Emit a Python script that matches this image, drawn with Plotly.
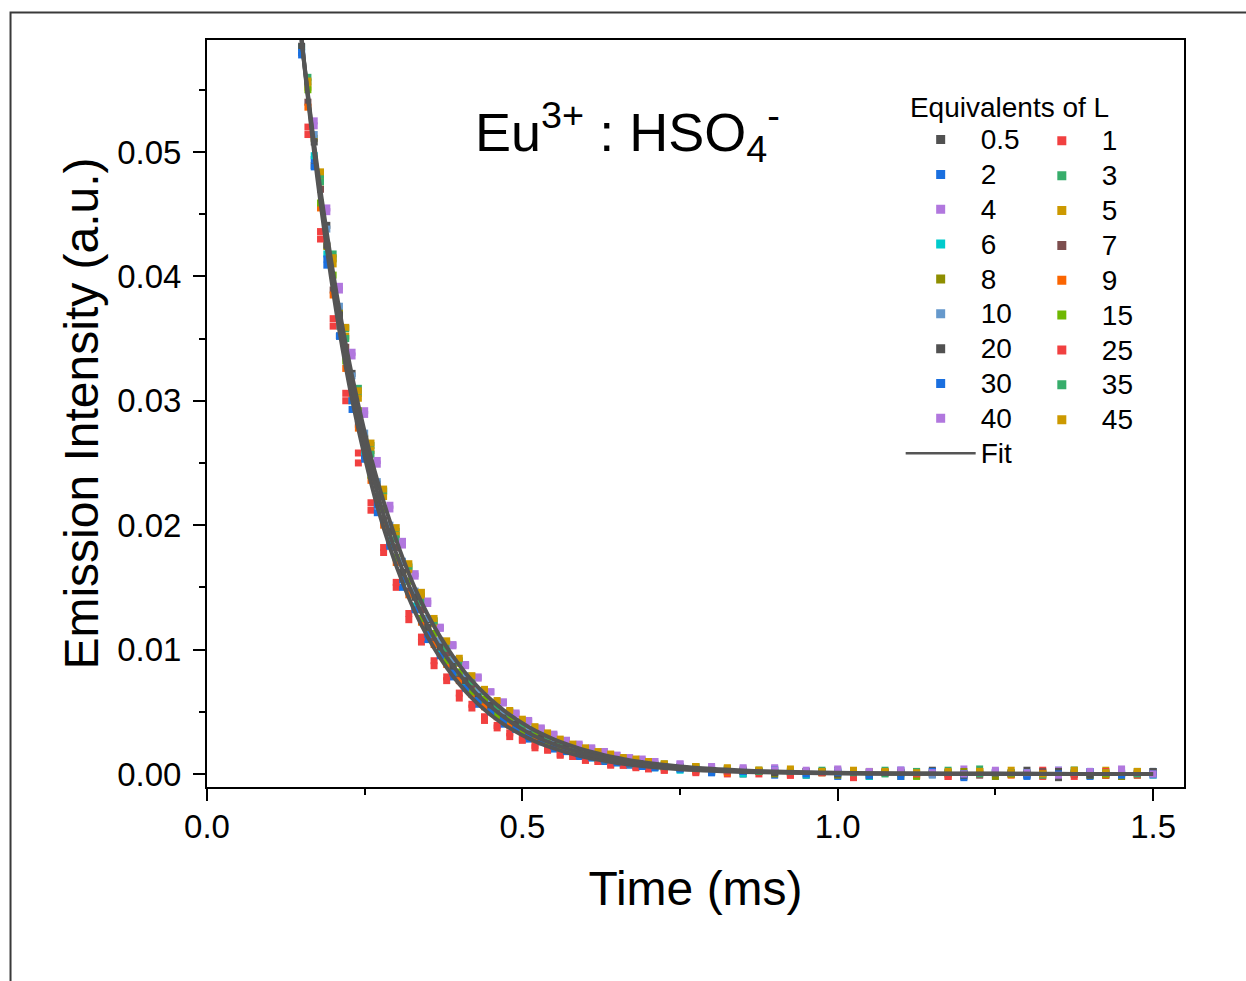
import plotly.graph_objects as go

# ---------------- data (intensity values in units of 1e-4 a.u.) ----------------
t_a = [0.15, 0.17, 0.19, 0.21, 0.23, 0.25, 0.27, 0.29, 0.31, 0.33, 0.35, 0.37, 0.39, 0.41, 0.43,
       0.45, 0.47, 0.49, 0.51, 0.53, 0.55, 0.57, 0.59, 0.61, 0.63, 0.65, 0.67, 0.69, 0.71,
       0.75, 0.80, 0.85, 0.90, 0.95, 1.00, 1.05, 1.10, 1.15, 1.20, 1.25, 1.30, 1.35, 1.40, 1.45, 1.50]
t_b = [0.16, 0.18, 0.20, 0.22, 0.24, 0.26, 0.28, 0.30, 0.32, 0.34, 0.36, 0.38, 0.40, 0.42,
       0.44, 0.46, 0.48, 0.50, 0.52, 0.54, 0.56, 0.58, 0.60, 0.62, 0.64, 0.66, 0.68, 0.70,
       0.725, 0.775, 0.825, 0.875, 0.925, 0.975, 1.025, 1.075, 1.125, 1.175, 1.225, 1.275,
       1.325, 1.375, 1.425, 1.475]

eq_labels = ["0.5", "1", "2", "3", "4", "5", "6", "7", "8", "9",
             "10", "15", "20", "25", "30", "35", "40", "45"]
colors = ["#515151", "#F14040", "#1A6FDF", "#37AD6B", "#B177DE", "#CC9900",
          "#00CBCC", "#7D4E4E", "#8E8E00", "#FB6501", "#6699CC", "#6FB802",
          "#515151", "#F14040", "#1A6FDF", "#37AD6B", "#B177DE", "#CC9900"]

s_0_5 = [602, 489, 441, 352, 322, 256, 233, 185, 170, 134, 124, 96, 91, 70, 66, 51, 48, 37, 35, 26,
         25, 19, 19, 14, 14, 10, 10, 7, 8, 6, 3, 0, 4, -1, 3, -2, 1, 3, -2, 0, 3, -3, 1, -2, 2]
s_1 = [520, 430, 366, 300, 258, 212, 182, 150, 129, 106, 91, 75, 65, 53, 46, 37, 33, 27, 23, 19,
       16, 14, 11, 10, 8, 7, 6, 4, 3, 2, 0, 2, -1, 1, -2, 2, -1, -2, 1, 0, 3, -2, 0, 1]
s_2 = [578, 494, 409, 352, 293, 256, 210, 184, 150, 133, 108, 96, 78, 70, 56, 50, 40, 36, 28, 26,
       20, 18, 14, 13, 10, 9, 7, 7, 5, 4, 1, 3, -1, 2, -2, 1, 3, 0, -3, 1, -1, 3, -2, 0, 2]
s_3 = [556, 481, 414, 358, 306, 264, 227, 195, 166, 143, 123, 105, 91, 78, 67, 58, 50, 43, 37, 32,
       27, 23, 20, 17, 15, 13, 11, 10, 8, 6, 4, 3, 2, 3, 1, 3, 0, 1, 4, 0, 1, 3, -1, 2]
s_4 = [598, 521, 452, 392, 336, 292, 249, 216, 184, 161, 137, 118, 103, 88, 77, 66, 57, 48, 42, 36,
       31, 27, 24, 20, 18, 15, 13, 11, 10, 8, 6, 4, 5, 2, 4, 1, 3, 0, 4, 1, -1, 3, 0, 4, 1]
s_5 = [552, 476, 410, 352, 302, 260, 223, 192, 164, 141, 121, 104, 89, 77, 66, 57, 49, 42, 36, 31,
       27, 23, 20, 17, 15, 13, 11, 9, 8, 6, 4, 3, 4, 2, 3, 1, 2, 1, 2, 3, 1, 0, 3, 2]
s_6 = [584, 497, 418, 360, 300, 259, 217, 188, 157, 135, 113, 98, 83, 70, 59, 51, 43, 36, 31, 26,
       22, 18, 16, 13, 11, 9, 8, 6, 5, 3, 2, 0, 1, -1, 1, -2, 0, 1, 0, -2, 1, 0, -1, 1, -1]
s_7 = [540, 470, 389, 343, 281, 249, 204, 182, 147, 132, 107, 97, 77, 70, 56, 51, 40, 37, 29, 28,
       21, 20, 15, 15, 11, 11, 8, 8, 6, 4, 3, 2, 1, 2, 0, 1, -1, 1, -1, 0, 2, 0, -1, 0]
s_8 = [594, 511, 424, 371, 306, 270, 222, 196, 161, 143, 117, 104, 85, 76, 61, 56, 44, 41, 31, 30,
       22, 22, 16, 16, 11, 12, 8, 9, 6, 5, 2, 3, 0, 2, -1, 2, -2, 0, 2, -2, 0, 2, -1, -2, 1]
s_9 = [536, 455, 385, 326, 278, 236, 200, 170, 144, 122, 104, 88, 75, 64, 54, 46, 39, 33, 28, 24,
       20, 17, 14, 12, 10, 9, 7, 6, 5, 3, 1, 2, 0, 1, -1, 1, -1, 0, 2, -1, 0, 1, -1, 0]
s_10 = [597, 514, 438, 376, 320, 274, 235, 200, 171, 147, 125, 107, 92, 79, 67, 57, 49, 42, 36, 31,
        26, 22, 19, 16, 14, 12, 10, 9, 7, 6, 4, 2, 3, 1, 2, -1, 2, -1, 0, 2, -1, 0, 2, 0, -1]
s_15 = [550, 459, 401, 332, 292, 240, 213, 174, 155, 125, 113, 91, 82, 66, 60, 47, 44, 34, 32, 24,
        23, 17, 17, 12, 12, 9, 9, 7, 5, 4, 2, 2, 1, 1, -1, 1, -2, 0, 2, 0, -1, 1, 0, -1]
s_20 = [585, 508, 425, 369, 309, 269, 223, 195, 162, 142, 118, 102, 86, 75, 62, 55, 45, 40, 32, 29,
        23, 21, 17, 16, 12, 11, 9, 8, 7, 5, 3, 2, 1, 2, 0, -1, 1, 2, -1, 1, 0, 2, -1, 0, 2]
s_25 = [514, 436, 360, 306, 250, 218, 178, 154, 124, 110, 87, 78, 61, 56, 43, 39, 30, 28, 21, 20,
        15, 14, 11, 10, 7, 7, 5, 5, 3, 1, 2, 0, -1, 1, -3, 1, 0, -2, 0, 1, -2, 0, 2, -1]
s_30 = [580, 488, 414, 352, 300, 253, 216, 183, 156, 132, 112, 95, 81, 69, 59, 50, 43, 36, 30, 26,
        22, 18, 15, 13, 11, 9, 8, 6, 5, 4, 1, 2, 3, 0, 1, -1, -2, 2, 0, 1, -2, 0, 2, -1, 0]
s_35 = [560, 476, 418, 350, 310, 257, 228, 189, 167, 138, 123, 101, 90, 74, 66, 54, 49, 40, 36, 30,
        26, 22, 19, 16, 14, 11, 11, 8, 7, 5, 4, 2, 2, 2, 1, 0, 2, 3, 0, 1, -1, 3, 1, 0]
s_40 = [601, 525, 455, 389, 339, 289, 252, 213, 187, 159, 139, 117, 104, 87, 78, 66, 58, 49, 43, 37,
        32, 27, 23, 21, 18, 15, 13, 12, 10, 8, 5, 5, 3, 3, 2, 2, 3, 1, 0, 3, 1, -1, 2, 3, 0]
s_45 = [557, 484, 415, 359, 308, 266, 229, 198, 169, 146, 125, 107, 93, 79, 68, 59, 51, 44, 38, 33,
        28, 24, 21, 18, 16, 13, 12, 10, 8, 6, 5, 3, 3, 2, 2, 2, 1, 2, 2, 1, 0, 3, 1, 2]

series_values = [s_0_5, s_1, s_2, s_3, s_4, s_5, s_6, s_7, s_8, s_9,
                 s_10, s_15, s_20, s_25, s_30, s_35, s_40, s_45]
# left legend column series use grid t_a, right legend column series use grid t_b
left_column = ["0.5", "2", "4", "6", "8", "10", "20", "30", "40"]

# fitted decay curves (band of fits), read on grid t_a
fit_fast = [590, 499, 422, 356, 301, 255, 215, 182, 154, 130, 110, 93, 78.5, 66.4, 56.1, 47.4, 40.1,
            33.9, 28.6, 24.2, 20.5, 17.3, 14.6, 12.4, 10.5, 8.8, 7.5, 6.3, 5.3,
            3.8, 2.5, 1.65, 1.08, 0.71, 0.47, 0.31, 0.2, 0.13, 0.09, 0.06, 0.04, 0.025, 0.017, 0.011, 0.007]
fit_mid = [590, 503, 428, 365, 311, 265, 226, 192, 164, 140, 119, 101, 87, 74, 63, 54, 46, 39, 33, 28,
           24, 20.5, 17.5, 15, 12.7, 10.8, 9.2, 7.8, 6.7,
           4.9, 3.3, 2.2, 1.5, 1.0, 0.65, 0.44, 0.3, 0.2, 0.13, 0.09, 0.06, 0.04, 0.03, 0.02, 0.01]
fit_slow = [590, 506, 435, 373, 320, 275, 236, 203, 174, 149, 128, 110, 94.5, 81, 69.6, 59.8, 51.3,
            44.0, 37.8, 32.4, 27.8, 23.9, 20.5, 17.6, 15.1, 13.0, 11.1, 9.6, 8.2,
            6.0, 4.1, 2.8, 1.9, 1.3, 0.89, 0.6, 0.41, 0.28, 0.19, 0.13, 0.09, 0.06, 0.04, 0.03, 0.02]

UNIT = 1e-4
FONT = "Liberation Sans, Arial, Helvetica, sans-serif"
FIT_COLOR = "#555555"


def leg_text(s):
    return '<span style="font-size:28px">' + s + "</span>"


fig = go.Figure()

# measured points
for lab, col, vals in zip(eq_labels, colors, series_values):
    tt = t_a if lab in left_column else t_b
    fig.add_trace(go.Scatter(
        x=tt, y=[v * UNIT for v in vals], mode="markers", name=lab,
        marker=dict(symbol="square", size=7, color=col, line=dict(width=0)),
        showlegend=False, hoverinfo="x+y+name",
    ))

# fitted curves
for fv in [fit_fast, fit_slow, fit_mid]:
    fig.add_trace(go.Scatter(
        x=t_a, y=[v * UNIT for v in fv], mode="lines", name="Fit",
        line=dict(color=FIT_COLOR, width=4, shape="spline"),
        showlegend=False,
    ))

# legend entries (two columns, as two legends)
for lab, col in zip(eq_labels, colors):
    fig.add_trace(go.Scatter(
        x=[None], y=[None], mode="markers", name=leg_text(lab),
        marker=dict(symbol="square", size=9, color=col, line=dict(width=0)),
        legend="legend" if lab in left_column else "legend2",
    ))
fig.add_trace(go.Scatter(
    x=[None], y=[None], mode="lines", name=leg_text("Fit"),
    line=dict(color=FIT_COLOR, width=2.5), legend="legend",
))

axis_common = dict(
    showline=True, linecolor="black", linewidth=2, mirror=True,
    ticks="outside", ticklen=12, tickwidth=2, tickcolor="black",
    showgrid=False, zeroline=False,
    tickfont=dict(family=FONT, size=33, color="black"),
)

legend_common = dict(
    xanchor="left", yanchor="top", bgcolor="rgba(0,0,0,0)", borderwidth=0,
    font=dict(family=FONT, size=24.5, color="black"), itemwidth=70,
    traceorder="normal", tracegroupgap=0,
)

fig.update_layout(
    width=1246, height=981,
    margin=dict(l=207, r=62, t=40, b=194, pad=0),
    paper_bgcolor="white", plot_bgcolor="white",
    font=dict(family=FONT, color="black"),
    xaxis=dict(
        range=[0, 1.549], tick0=0, dtick=0.5, tickformat=".1f",
        minor=dict(dtick=0.25, ticks="outside", ticklen=6, tickwidth=2, tickcolor="black", showgrid=False),
        title=dict(text="Time (ms)", font=dict(family=FONT, size=48), standoff=28),
        ticklabelstandoff=-3,
        **axis_common,
    ),
    yaxis=dict(
        range=[-0.00105, 0.0590], tick0=0, dtick=0.01, tickformat=".2f",
        minor=dict(dtick=0.005, ticks="outside", ticklen=6, tickwidth=2, tickcolor="black", showgrid=False),
        title=dict(text="Emission Intensity (a.u.)", font=dict(family=FONT, size=48), standoff=3),
        ticklabelstandoff=5,
        **axis_common,
    ),
    legend=dict(
        x=0.710, y=0.942,
        title=dict(text="\u00a0" + leg_text("Equivalents of L"), font=dict(family=FONT, size=26)),
        **legend_common,
    ),
    legend2=dict(
        x=0.834, y=0.895,
        **legend_common,
    ),
    showlegend=True,
    annotations=[dict(
        xref="paper", yref="paper", x=0.2722, y=0.877, xanchor="left", yanchor="middle",
        text="Eu<sup>3+</sup> : HSO<sub>4</sub><sup>-</sup>", showarrow=False,
        font=dict(family=FONT, size=54, color="black"),
    )],
    shapes=[dict(
        type="path", xref="paper", yref="paper",
        path="M -0.2011,-0.28 L -0.2011,1.0368 L 1.08,1.0368",
        line=dict(color="#3a3a3a", width=2),
    )],
)

fig.write_html("out.html")
